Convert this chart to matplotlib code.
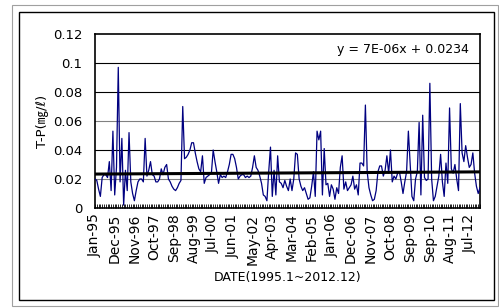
import numpy as np
import matplotlib.pyplot as plt
from matplotlib.patches import Rectangle

# -----------------------------
# Data (monthly T-P, 1995.1 ~ 2012.12)
# -----------------------------

tp = [
    0.020, 0.019, 0.013, 0.008, 0.021, 0.023, 0.023, 0.021, 0.032, 0.012,
    0.053, 0.009, 0.028, 0.097, 0.018, 0.048, 0.002, 0.026, 0.012, 0.052,
    0.018, 0.010, 0.005, 0.012, 0.018, 0.020, 0.020, 0.018, 0.048, 0.022,
    0.026, 0.032, 0.023, 0.022, 0.018, 0.018, 0.020, 0.027, 0.023, 0.028,
    0.030, 0.020, 0.018, 0.015, 0.013, 0.012, 0.014, 0.017, 0.019, 0.070,
    0.034, 0.035, 0.037, 0.040, 0.045, 0.045, 0.038, 0.032, 0.027, 0.025,
    0.036, 0.017, 0.021, 0.022, 0.023, 0.024, 0.040, 0.032, 0.025, 0.017,
    0.023, 0.021, 0.022, 0.021, 0.025, 0.030, 0.037, 0.037, 0.034, 0.028,
    0.020, 0.022, 0.023, 0.023, 0.021, 0.022, 0.021, 0.022, 0.028, 0.036,
    0.028, 0.026, 0.022, 0.017, 0.009, 0.008, 0.005, 0.025, 0.042, 0.008,
    0.026, 0.009, 0.036, 0.018, 0.017, 0.014, 0.019, 0.015, 0.012, 0.020,
    0.012, 0.020, 0.038, 0.037, 0.020, 0.015, 0.012, 0.014, 0.010, 0.006,
    0.007, 0.015, 0.025, 0.008, 0.053, 0.047, 0.053, 0.009, 0.041, 0.016,
    0.017, 0.008, 0.016, 0.013, 0.006, 0.014, 0.010, 0.028, 0.036, 0.013,
    0.018, 0.012, 0.014, 0.016, 0.022, 0.013, 0.016, 0.009, 0.031, 0.031,
    0.029, 0.071, 0.025, 0.014, 0.009, 0.005, 0.006, 0.012, 0.025, 0.029,
    0.029, 0.022, 0.026, 0.036, 0.024, 0.040, 0.018, 0.022, 0.020, 0.024,
    0.025, 0.018, 0.010, 0.018, 0.025, 0.053, 0.030, 0.008, 0.005, 0.020,
    0.025, 0.059, 0.009, 0.064, 0.021, 0.019, 0.020, 0.086, 0.020, 0.005,
    0.008, 0.015, 0.022, 0.037, 0.018, 0.008, 0.031, 0.017, 0.069, 0.027,
    0.024, 0.030, 0.020, 0.012, 0.072, 0.038, 0.032, 0.043, 0.035, 0.028,
    0.030, 0.038, 0.024, 0.015, 0.010, 0.014,
]

tick_labels = [
    "Jan-95", "Dec-95", "Nov-96", "Oct-97", "Sep-98", "Aug-99", "Jul-00",
    "Jun-01", "May-02", "Apr-03", "Mar-04", "Feb-05", "Jan-06", "Dec-06",
    "Nov-07", "Oct-08", "Sep-09", "Sep-10", "Aug-11", "Jul-12",
]

y_ticks = [0, 0.02, 0.04, 0.06, 0.08, 0.1, 0.12]
y_tick_labels = ["0", "0.02", "0.04", "0.06", "0.08", "0.1", "0.12"]

slope = 7e-06
intercept = 0.0234

# -----------------------------
# Plot
# -----------------------------

plt.rcParams['font.family'] = ['DejaVu Sans', 'Noto Sans CJK KR']

fig = plt.figure(figsize=(4.99, 3.08), dpi=100)

# outer frames
fig.patches.append(Rectangle((12/499, 1 - 306/308), 486/499, 301/308,
                             transform=fig.transFigure, fill=False,
                             edgecolor="#a0a0a0", linewidth=0.8))
fig.patches.append(Rectangle((19/499, 1 - 300/308), 475/499, 288/308,
                             transform=fig.transFigure, fill=False,
                             edgecolor="black", linewidth=1.0))

ax = fig.add_axes([95/499, 1 - 208/308, 385/499, 174/308])

x = np.arange(len(tp))

for yv in y_ticks[1:-1]:
    col = "#808080" if yv in (0.02, 0.06) else "black"
    ax.axhline(yv, color=col, linewidth=0.8, zorder=1)

ax.plot(x, tp, color="#000080", linewidth=0.9, zorder=3)

trend = slope * (x + 1) + intercept
ax.plot(x, trend, color="black", linewidth=2.2, zorder=4)

ax.set_xlim(0, len(tp) - 1)
ax.set_ylim(0, 0.12)

ax.set_yticks(y_ticks)
ax.set_yticklabels(y_tick_labels, fontsize=9.5)
ax.tick_params(axis="y", length=0, pad=9)

ax.set_xticks(np.arange(0, len(tp), 11)[:len(tick_labels)])
ax.set_xticklabels(tick_labels, rotation=90, fontsize=10)
ax.set_xticks(x, minor=True)
ax.tick_params(axis="x", which="both", direction="in", length=3, width=0.6, pad=4)

for s in ax.spines.values():
    s.set_linewidth(1.2)

ax.set_ylabel("T-P(㎎/ℓ)", fontsize=9.5, labelpad=3)
ax.set_xlabel("DATE(1995.1~2012.12)", fontsize=9, labelpad=5)

ax.text(0.97, 0.91, "y = 7E-06x + 0.0234", transform=ax.transAxes,
        ha="right", va="center", fontsize=9)

fig.savefig("out.png", dpi=100)
